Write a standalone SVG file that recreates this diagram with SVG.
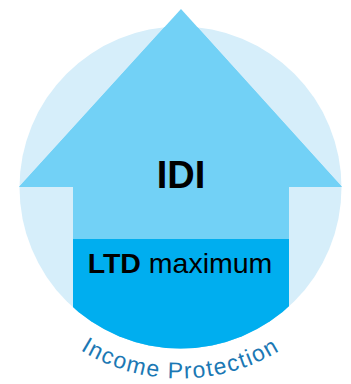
<svg xmlns="http://www.w3.org/2000/svg" width="351" height="384" viewBox="0 0 351 384">
  <style>
    .lbl { font-family: "Liberation Sans", Arial, sans-serif; fill: #000; text-anchor: middle; }
    .arc { font-family: "Liberation Sans", Arial, sans-serif; fill: #1b78b4; font-size: 23px; }
  </style>
  <defs>
    <clipPath id="circ">
      <circle cx="180.5" cy="187.5" r="161"/>
    </clipPath>
    <path id="textArc" d="M -10.5 187.5 A 191 191 0 0 0 371.5 187.5" fill="none"/>
  </defs>
  <g id="circle">
    <circle cx="180.5" cy="187.5" r="161" fill="#d6eefa"/>
  </g>
  <g id="arrow">
    <path d="M 181 9 L 342 187 L 289 187 L 289 360 L 73 360 L 73 187 L 19 187 Z" fill="#72d1f6" clip-path="url(#circ)"/>
    <polygon points="181,9 342,187 19,187" fill="#72d1f6"/>
  </g>
  <g id="ltd">
    <rect x="73" y="239" width="216" height="120" fill="#00aeef" clip-path="url(#circ)"/>
  </g>
  <g id="idi-label">
    <text class="lbl" x="181" y="188" font-size="38" font-weight="bold">IDI</text>
  </g>
  <g id="ltd-label">
    <text class="lbl" x="180" y="273" font-size="28.5"><tspan font-weight="bold">LTD</tspan> maximum</text>
  </g>
  <g id="income-protection">
    <text class="arc"><textPath href="#textArc" startOffset="50%" text-anchor="middle" letter-spacing="1.5">Income Protection</textPath></text>
  </g>
</svg>
